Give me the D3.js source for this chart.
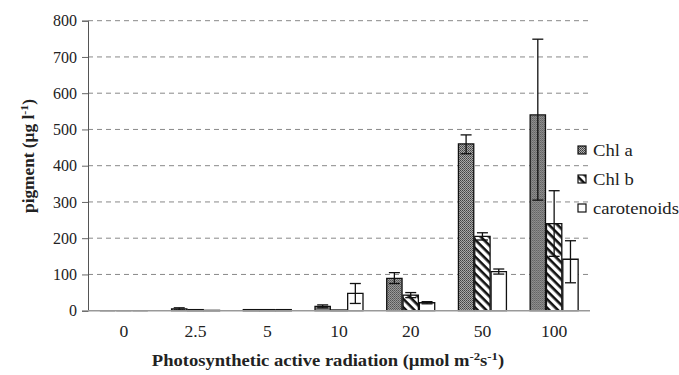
<!DOCTYPE html>
<html>
<head>
<meta charset="utf-8">
<script src="https://cdn.jsdelivr.net/npm/d3@7"></script>
<style>
  body { margin: 0; background: #fff; }
</style>
</head>
<body>
<svg id="chart"></svg>
<script>
var width = 679,
  height = 375;

// data (bar value, error bar top, error bar bottom)
var categories = ['0', '2.5', '5', '10', '20', '50', '100'];
var seriesNames = ['Chl a', 'Chl b', 'carotenoids'];
var chlA = [0, 5, 3, 12, 89, 460, 540];
var chlAHi = [0, 8, 3, 16, 105, 485, 749];
var chlALo = [0, 2, 3, 8, 75, 433, 305];
var chlB = [0, 3, 3, 2, 43, 205, 240];
var chlBHi = [0, 3, 3, 2, 50, 215, 331];
var chlBLo = [0, 3, 3, 2, 36, 195, 150];
var carot = [0, 1, 3, 48, 22, 108, 142];
var carotHi = [0, 1, 3, 75, 25, 115, 193];
var carotLo = [0, 1, 3, 20, 19, 101, 77];
var yTicks = [0, 100, 200, 300, 400, 500, 600, 700, 800];

var values = [chlA, chlB, carot];
var highs = [chlAHi, chlBHi, carotHi];
var lows = [chlALo, chlBLo, carotLo];
var fills = ['url(#dots)', 'url(#stripes)', '#fff'];
var serif = "'Liberation Serif'";

var svg = d3.select('#chart')
  .attr('width', width)
  .attr('height', height);

var defs = svg.append('defs');

var dots = defs.append('pattern')
  .attr('id', 'dots')
  .attr('patternUnits', 'userSpaceOnUse')
  .attr('width', 2)
  .attr('height', 2);
dots.append('rect').attr('width', 2).attr('height', 2).attr('fill', '#b0b0b0');
dots.append('rect').attr('width', 1).attr('height', 1).attr('fill', '#3a3a3a');
dots.append('rect').attr('x', 1).attr('y', 1).attr('width', 1).attr('height', 1).attr('fill', '#555');

var stripes = defs.append('pattern')
  .attr('id', 'stripes')
  .attr('patternUnits', 'userSpaceOnUse')
  .attr('width', 6)
  .attr('height', 6)
  .attr('patternTransform', 'rotate(45)');
stripes.append('rect').attr('width', 6).attr('height', 6).attr('fill', '#fff');
stripes.append('rect').attr('width', 6).attr('height', 2.6).attr('fill', '#111');

var x = d3.scaleBand()
  .domain(categories)
  .range([88, 590]);

var x1 = d3.scaleBand()
  .domain(d3.range(seriesNames.length))
  .range([0, 49]);

var y = d3.scaleLinear()
  .domain([0, 800])
  .range([310.7, 20.7]);

// gridlines
svg.append('g')
  .selectAll('line')
  .data(yTicks.filter(function(d) { return d > 0; }))
  .enter().append('line')
  .attr('x1', 88)
  .attr('x2', 590)
  .attr('y1', function(d) { return y(d); })
  .attr('y2', function(d) { return y(d); })
  .attr('stroke', '#888')
  .attr('stroke-width', 1)
  .attr('stroke-dasharray', '5,4');

// y axis
var yAxis = svg.append('g')
  .attr('transform', 'translate(88,0)')
  .call(d3.axisLeft(y).tickValues(yTicks).tickSize(6).tickPadding(5));
yAxis.attr('font-family', null).attr('font-size', null);
yAxis.selectAll('line').attr('stroke', '#666');
yAxis.select('.domain').attr('stroke', '#555');
yAxis.selectAll('text')
  .style('font-family', serif)
  .style('font-size', '16px')
  .attr('fill', '#222');

// bars
var groups = svg.append('g')
  .selectAll('g')
  .data(categories)
  .enter().append('g')
  .attr('transform', function(d) {
    return 'translate(' + (x(d) + (x.bandwidth() - 49) / 2) + ',0)';
  });

function rows(d, i) {
  return values.map(function(v, s) {
    return { s: s, v: v[i], hi: highs[s][i], lo: lows[s][i] };
  });
}

groups.selectAll('path.bar')
  .data(rows)
  .enter().append('path')
  .attr('class', 'bar')
  .attr('d', function(d) {
    var x0 = x1(d.s) + 0.5, w = x1.bandwidth() - 1;
    return 'M' + x0 + ',' + y(0) + 'V' + y(d.v) + 'h' + w + 'V' + y(0) + 'Z';
  })
  .attr('fill', function(d) { return fills[d.s]; })
  .attr('stroke', '#111')
  .attr('stroke-width', 1.3);

// error bars
var err = groups.selectAll('g.err')
  .data(function(d, i) {
    return rows(d, i).filter(function(r) { return r.hi > r.v || r.lo < r.v; });
  })
  .enter().append('g')
  .attr('class', 'err')
  .attr('stroke', '#111')
  .attr('stroke-width', 1.3);

err.append('line')
  .attr('x1', function(d) { return x1(d.s) + x1.bandwidth() / 2; })
  .attr('x2', function(d) { return x1(d.s) + x1.bandwidth() / 2; })
  .attr('y1', function(d) { return y(d.hi); })
  .attr('y2', function(d) { return y(d.lo); });

err.selectAll('line.cap')
  .data(function(d) { return [d.hi, d.lo].map(function(t) { return { s: d.s, t: t }; }); })
  .enter().append('line')
  .attr('class', 'cap')
  .attr('x1', function(d) { return x1(d.s) + x1.bandwidth() / 2 - 5.5; })
  .attr('x2', function(d) { return x1(d.s) + x1.bandwidth() / 2 + 5.5; })
  .attr('y1', function(d) { return y(d.t); })
  .attr('y2', function(d) { return y(d.t); });

// baseline
svg.append('line')
  .attr('x1', 88)
  .attr('x2', 590)
  .attr('y1', y(0))
  .attr('y2', y(0))
  .attr('stroke', '#999')
  .attr('stroke-width', 1.5);

// x labels
svg.append('g')
  .selectAll('text')
  .data(categories)
  .enter().append('text')
  .attr('transform', function(d) {
    return 'translate(' + (x(d) + x.bandwidth() / 2) + ',337) scale(1.1,1)';
  })
  .attr('text-anchor', 'middle')
  .style('font-family', serif)
  .style('font-size', '16px')
  .attr('fill', '#222')
  .text(function(d) { return d; });

// axis titles
var yt = svg.append('text')
  .attr('transform', 'translate(34,156) rotate(-90) scale(1.08,1)')
  .attr('text-anchor', 'middle')
  .style('font-family', serif)
  .style('font-size', '16px')
  .attr('font-weight', 'bold')
  .attr('fill', '#222');
yt.append('tspan').text('pigment (µg l');
yt.append('tspan').attr('dy', -6).style('font-size', '11px').text('-1');
yt.append('tspan').attr('dy', 6).text(')');

var xt = svg.append('text')
  .attr('transform', 'translate(328,366) scale(1.16,1)')
  .attr('text-anchor', 'middle')
  .style('font-family', serif)
  .style('font-size', '16px')
  .attr('font-weight', 'bold')
  .attr('fill', '#222');
xt.append('tspan').text('Photosynthetic active radiation (µmol m');
xt.append('tspan').attr('dy', -6).style('font-size', '11px').text('-2');
xt.append('tspan').attr('dy', 6).text('s');
xt.append('tspan').attr('dy', -6).style('font-size', '11px').text('-1');
xt.append('tspan').attr('dy', 6).text(')');

// legend
var legend = svg.append('g')
  .selectAll('g')
  .data(seriesNames)
  .enter().append('g')
  .attr('transform', function(d, i) { return 'translate(578,' + (146 + i * 29) + ')'; });

legend.append('rect')
  .attr('width', 8)
  .attr('height', 8)
  .attr('fill', function(d, i) { return fills[i]; })
  .attr('stroke', '#111')
  .attr('stroke-width', 1.2);

legend.append('text')
  .attr('transform', 'translate(15,9.5) scale(1.13,1)')
  .style('font-family', serif)
  .style('font-size', '16.5px')
  .attr('fill', '#222')
  .text(function(d) { return d; });
</script>
</body>
</html>
